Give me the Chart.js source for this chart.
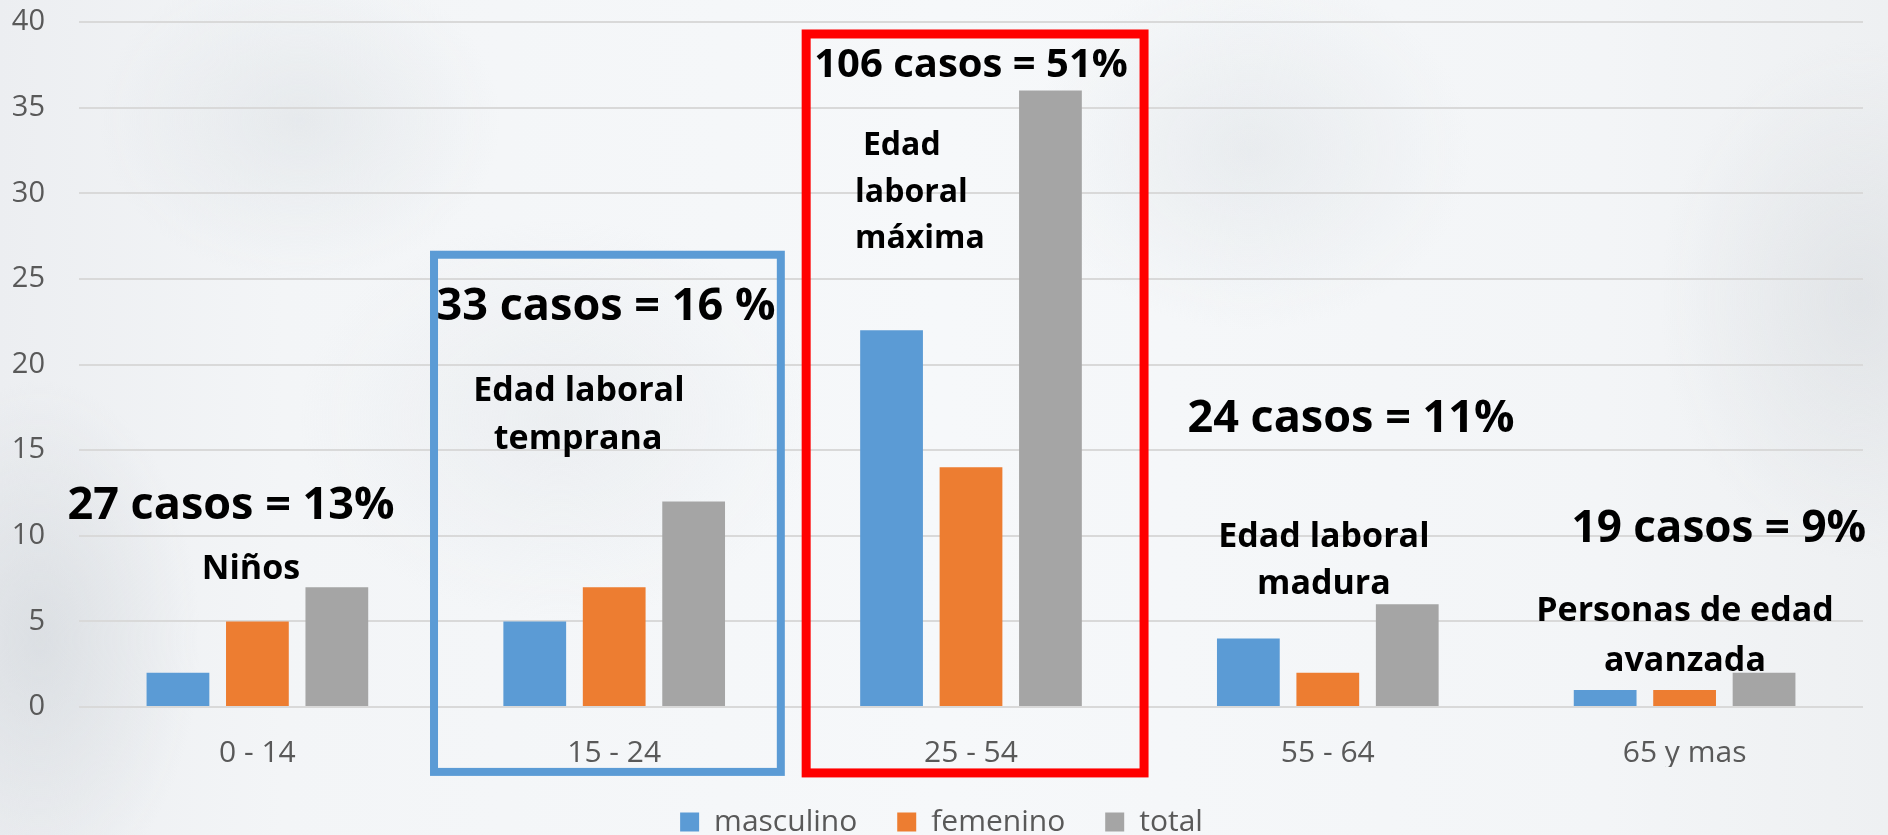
<!DOCTYPE html>
<html><head><meta charset="utf-8">
<script src="https://cdn.jsdelivr.net/npm/chart.js@4"></script>
<style>
html,body{margin:0;padding:0;width:1888px;height:835px;overflow:hidden;}
body{background:
  radial-gradient(ellipse 160px 260px at 40px 640px, rgba(205,210,215,0.55), rgba(205,210,215,0) 100%),
  radial-gradient(ellipse 200px 160px at 300px 120px, rgba(215,220,224,0.45), rgba(215,220,224,0) 100%),
  radial-gradient(ellipse 220px 180px at 1250px 150px, rgba(215,220,224,0.40), rgba(215,220,224,0) 100%),
  radial-gradient(ellipse 200px 260px at 1860px 300px, rgba(210,214,218,0.45), rgba(210,214,218,0) 100%),
  radial-gradient(ellipse 260px 200px at 560px 420px, rgba(220,224,228,0.35), rgba(220,224,228,0) 100%),
  linear-gradient(90deg,#eceef1 0%,#f3f5f7 15%,#f6f8fa 50%,#f3f5f7 85%,#eef0f2 100%);}
#wrap{position:absolute;left:0;top:0;width:1888px;height:847px;}
</style></head><body>
<div id="wrap"><canvas id="c" width="1888" height="847"></canvas></div>
<script>
// ---- data ----
const categories = ['0 - 14', '15 - 24', '25 - 54', '55 - 64', '65 y mas'];
const seriesNames = ['masculino', 'femenino', 'total'];
const masculino = [2, 5, 22, 4, 1];
const femenino = [5, 7, 14, 2, 1];
const total = [7, 12, 36, 6, 2];
const yMin = 0, yMax = 40, yStep = 5;
const groupTitles = ['27 casos = 13%', '33 casos = 16 %', '106 casos = 51%', '24 casos = 11%', '19 casos = 9%'];
const groupLabels = [['Niños'], ['Edad laboral', 'temprana'], ['Edad', 'laboral', 'máxima'], ['Edad laboral', 'madura'], ['Personas de edad', 'avanzada']];

// ---- styling / placement (data-space positions: x = category index, y = value) ----
const colors = ['#5B9BD5', '#ED7D31', '#A5A5A5'];
const FONT = '"Open Sans", "Noto Sans", sans-serif';
const titlePos = [
  {x: -0.074, y: 10.96, size: 45},
  {x: 0.977, y: 22.57, size: 45},
  {x: 2.0, y: 36.79, size: 40},
  {x: 3.065, y: 16.03, size: 45},
  {x: 4.096, y: 9.62, size: 44}
];
const labelPos = [
  {lines: [{x: -0.018, y: 7.46}], size: 34, align: 'center'},
  {lines: [{x: 0.901, y: 17.84}, {x: 0.899, y: 15.04}], size: 34, align: 'center'},
  {lines: [{x: 1.697, y: 32.24}, {x: 1.675, y: 29.5}, {x: 1.675, y: 26.82}], size: 32, align: 'left'},
  {lines: [{x: 2.989, y: 9.33}, {x: 2.989, y: 6.59}], size: 34, align: 'center'},
  {lines: [{x: 4.001, y: 5.01}, {x: 4.001, y: 2.1}], size: 34, align: 'center'}
];
const frames = [
  {x0: 0.495, x1: 1.467, y0: -3.79, y1: 26.41, color: '#5B9BD5', width: 8},
  {x0: 1.538, x1: 2.485, y0: -3.85, y1: 39.3, color: '#FF0000', width: 9}
];
const legendShift = 10;

const annotPlugin = {
  id: 'annot',
  afterLayout(chart) {
    if (chart.legend) { chart.legend.left += legendShift; chart.legend.right += legendShift; }
  },
  afterDraw(chart) {
    const {ctx, scales: {x, y}} = chart;
    ctx.save();
    frames.forEach(f => {
      ctx.strokeStyle = f.color;
      ctx.lineWidth = f.width;
      const l = x.getPixelForValue(f.x0), r = x.getPixelForValue(f.x1);
      const t = y.getPixelForValue(f.y1), b = y.getPixelForValue(f.y0);
      ctx.strokeRect(l, t, r - l, b - t);
    });
    ctx.fillStyle = '#000';
    ctx.textBaseline = 'alphabetic';
    groupTitles.forEach((txt, i) => {
      const p = titlePos[i];
      ctx.font = 'bold ' + p.size + 'px ' + FONT;
      ctx.textAlign = 'center';
      ctx.fillText(txt, x.getPixelForValue(p.x), y.getPixelForValue(p.y));
    });
    groupLabels.forEach((lines, i) => {
      const p = labelPos[i];
      ctx.font = 'bold ' + p.size + 'px ' + FONT;
      ctx.textAlign = p.align;
      lines.forEach((txt, j) => {
        const q = p.lines[j];
        ctx.fillText(txt, x.getPixelForValue(q.x), y.getPixelForValue(q.y));
      });
    });
    ctx.restore();
  }
};

const seriesData = [masculino, femenino, total];
new Chart(document.getElementById('c'), {
  type: 'bar',
  data: {
    labels: categories,
    datasets: seriesNames.map((n, i) => ({
      label: n,
      data: seriesData[i],
      backgroundColor: colors[i],
      borderWidth: 0,
      categoryPercentage: 0.668,
      barPercentage: 0.79
    }))
  },
  options: {
    responsive: false,
    animation: false,
    devicePixelRatio: 1,
    layout: {padding: {top: 22, right: 25, left: 0, bottom: 0}},
    plugins: {
      tooltip: {enabled: false},
      legend: {
        position: 'bottom',
        labels: {
          boxWidth: 19, boxHeight: 19, padding: 40,
          color: '#595959',
          font: {family: FONT, size: 30}
        }
      }
    },
    scales: {
      x: {
        grid: {display: false, drawTicks: false},
        border: {display: false},
        ticks: {color: '#595959', font: {family: FONT, size: 30}, padding: 28, maxRotation: 0},
        afterFit(s) { s.height = 60; }
      },
      y: {
        min: yMin, max: yMax,
        grid: {color: '#d9d9d9', lineWidth: 2, drawTicks: false},
        border: {display: false},
        ticks: {stepSize: yStep, color: '#595959', font: {family: FONT, size: 29}, padding: 34},
        afterFit(s) { s.width = 79; s.paddingTop = 0; s.paddingBottom = 0; }
      }
    }
  },
  plugins: [annotPlugin]
});
</script>
</body></html>
